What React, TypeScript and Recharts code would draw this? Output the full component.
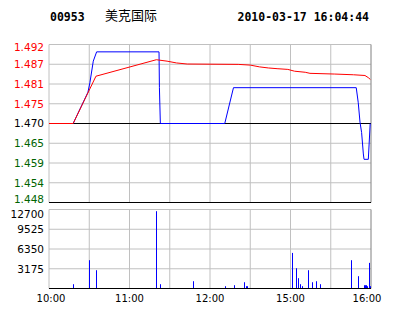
import React from 'react';
import { ComposedChart, Line, Bar, XAxis, YAxis, ReferenceLine } from 'recharts';

// ---- header ----
const stockCode = '00953';
const stockName = '美克国际';
const timestamp = '2010-03-17 16:04:44';

// ---- axes ----
const xGridTicks = [0, 30, 60, 90, 120, 150, 180, 210, 240];
const xLabelTicks = [0, 60, 120, 180, 240];
const xLabels = ['10:00', '11:00', '12:00', '15:00', '16:00'];

const prevClose = 1.47;
const priceTicks = [1.49205, 1.486537, 1.481025, 1.475512, 1.47, 1.464487, 1.458975, 1.453462, 1.44795];
const priceLabels = ['1.492', '1.487', '1.481', '1.475', '1.470', '1.465', '1.459', '1.454', '1.448'];
const pctLabels = ['+1.50 %', '+1.12 %', '+0.75 %', '+0.37 %', ' 0.00 %', '-0.37 %', '-0.75 %', '-1.12 %', '-1.50 %'];
const labelColors = ['#ff0000', '#ff0000', '#ff0000', '#ff0000', '#000000', '#006400', '#006400', '#006400', '#006400'];

const volTicks = [0, 3175, 6350, 9525, 12700];
const volLabels = ['', '3175', '6350', '9525', '12700'];

// ---- price series (minute index from 10:00) ----
const priceMinutes = [0, 18, 29, 30.5, 33, 35.5, 82, 82.3, 83, 131, 137.5, 229, 230.5, 231.8, 233, 234.3, 234.8, 238, 239.4];
const priceValues = [1.47, 1.47, 1.4787, 1.4814, 1.4874, 1.490, 1.490, 1.480, 1.470, 1.470, 1.480, 1.480, 1.4758, 1.4704, 1.4675, 1.4615, 1.460, 1.460, 1.470];

// ---- average price series ----
const avgMinutes = [0, 18, 35, 80, 88, 95, 103, 141, 150, 157, 163.5, 170, 178, 183, 191, 194.5, 213, 227, 235.5, 238, 239.5];
const avgValues = [1.47, 1.47, 1.4832, 1.4878, 1.4874, 1.4869, 1.4866, 1.4865, 1.4863, 1.4858, 1.4855, 1.4853, 1.4851, 1.4846, 1.4843, 1.484, 1.4838, 1.4836, 1.4834, 1.4828, 1.4823];

// ---- volume ----
const volMinutes = [18, 30, 35, 80, 82.5, 83, 107, 131, 138, 145.5, 146.5, 147.5, 181, 184, 185.5, 187, 188.5, 193, 196, 199, 202, 225, 230, 235, 235.7, 236.5, 237.3, 238.7, 239.5];
const volValues = [690, 4550, 2940, 12430, 530, 690, 1170, 370, 530, 1010, 370, 370, 5720, 3260, 1660, 690, 370, 2940, 1010, 1170, 690, 4550, 1980, 530, 530, 530, 370, 4120, 370];

// merged table for the price panel
const allMinutes = Array.from(new Set([...priceMinutes, ...avgMinutes, 240])).sort((a, b) => a - b);
const priceData = allMinutes.map((m) => {
  const row: any = { m };
  const pi = priceMinutes.indexOf(m);
  if (pi >= 0) row.p = priceValues[pi];
  const ai = avgMinutes.indexOf(m);
  if (ai >= 0) row.a = avgValues[ai];
  if (m === 0 || m === 240) row.b = prevClose;
  return row;
});
const volData = volMinutes.map((m, i) => ({ m, v: volValues[i] }));

const GRID = '#c0c0c0';
const DARK = '#808080';
const PRICE_DOMAIN: [number, number] = [priceTicks[8], priceTicks[0]];
const VOL_DOMAIN: [number, number] = [0, 12700];
const LAYER = { position: 'absolute' as const, left: 0, top: 0 };

function findIdx(arr: number[], v: number) {
  return arr.findIndex((t) => Math.abs(t - v) < 1e-7);
}

function LeftPriceTick(props: any) {
  const { x, y, payload } = props;
  const i = findIdx(priceTicks, payload.value);
  const adj = i === 0 ? 2.5 : i === priceTicks.length - 1 ? -3.5 : 0;
  return (
    <text x={x} y={y + adj} dy="0.36em" textAnchor="end" fill={labelColors[i]} fontSize={10.5} fontFamily="DejaVu Sans">
      {priceLabels[i]}
    </text>
  );
}

function RightPriceTick(props: any) {
  const { x, y, payload } = props;
  const i = findIdx(priceTicks, payload.value);
  const adj = i === 0 ? 2.5 : i === priceTicks.length - 1 ? -3.5 : 0;
  return (
    <text x={x} y={y + adj} dy="0.36em" textAnchor="start" fill={labelColors[i]} fontSize={10} fontFamily="DejaVu Sans Mono" style={{ whiteSpace: 'pre' }}>
      {pctLabels[i]}
    </text>
  );
}

function VolTick(props: any) {
  const { x, y, payload } = props;
  const i = findIdx(volTicks, payload.value);
  const adj = i === volTicks.length - 1 ? 4.5 : 0;
  return (
    <text x={x} y={y + adj} dy="0.36em" textAnchor="end" fill="#000" fontSize={10.5} fontFamily="DejaVu Sans">
      {volLabels[i]}
    </text>
  );
}

function TimeTick(props: any) {
  const { x, y, payload } = props;
  const i = findIdx(xLabelTicks, payload.value);
  const dx = i === 0 ? 2 : i === xLabelTicks.length - 1 ? -4 : 0;
  return (
    <text x={x + dx} y={y} dy="0.71em" textAnchor="middle" fill="#000" fontSize={10} fontFamily="DejaVu Sans">
      {xLabels[i]}
    </text>
  );
}

function VolBar(props: any) {
  const { x, y, width, height } = props;
  if (!height || height <= 0) return null;
  const cx = Math.round(x + width / 2);
  return <rect x={cx} y={y} width={1} height={height} fill="#0000ff" />;
}

// grid drawn with line series: horizontal rules at tick values, vertical rules at half-hours
function GridLayer({ top, height, margin, domain, ticks }: { top: number; height: number; margin: any; domain: [number, number]; ticks: number[] }) {
  return (
    <div style={{ position: 'absolute', left: 0, top }}>
      <ComposedChart width={414} height={height} margin={margin}>
        <XAxis dataKey="m" type="number" domain={[0, 240]} ticks={xGridTicks} hide />
        <YAxis domain={domain} ticks={ticks} hide />
        {ticks.map((t, i) => (
          <Line key={'h' + i} data={[{ m: 0, g: t }, { m: 240, g: t }]} dataKey="g" stroke={GRID} strokeWidth={1}
            dot={false} activeDot={false} isAnimationActive={false} />
        ))}
        {xGridTicks.map((t, i) => (
          <Line key={'v' + i} data={[{ m: t, g: domain[0] }, { m: t, g: domain[1] }]} dataKey="g"
            stroke={i === xGridTicks.length - 1 ? DARK : GRID} strokeWidth={1}
            dot={false} activeDot={false} isAnimationActive={false} />
        ))}
      </ComposedChart>
    </div>
  );
}

function PriceLayer({ dataKey, color }: { dataKey: string; color: string }) {
  return (
    <div style={LAYER}>
      <ComposedChart width={414} height={210} data={priceData} margin={{ top: 44.5, right: 43, bottom: 7.5, left: 49 }}>
        <XAxis dataKey="m" type="number" domain={[0, 240]} ticks={xGridTicks} hide />
        <YAxis domain={PRICE_DOMAIN} ticks={priceTicks} hide />
        <Line dataKey={dataKey} stroke={color} strokeWidth={1} dot={false} connectNulls isAnimationActive={false} />
      </ComposedChart>
    </div>
  );
}

export default function App() {
  return (
    <div style={{ position: 'absolute', left: 0, top: 0, width: 414, height: 314, background: '#fff' }}>
      <GridLayer top={0} height={210} margin={{ top: 44.5, right: 43, bottom: 7.5, left: 49 }} domain={PRICE_DOMAIN} ticks={priceTicks} />
      {/* price axes, previous close, bottom rule */}
      <div style={LAYER}>
        <ComposedChart width={414} height={210} data={priceData} margin={{ top: 44.5, right: 0, bottom: 7.5, left: 0 }}>
          <XAxis dataKey="m" type="number" domain={[0, 240]} ticks={xGridTicks} hide />
          <YAxis orientation="left" width={49} domain={PRICE_DOMAIN} ticks={priceTicks} interval={0}
            tick={<LeftPriceTick />} tickLine={false} tickSize={3} tickMargin={2} axisLine={false} />
          <YAxis yAxisId="r" orientation="right" width={43} domain={PRICE_DOMAIN} ticks={priceTicks} interval={0}
            tick={<RightPriceTick />} tickLine={false} tickSize={1} tickMargin={0} axisLine={false} />
          <ReferenceLine y={priceTicks[8]} stroke="#000" />
          <Line dataKey="b" stroke="#000" strokeWidth={1} dot={false} connectNulls isAnimationActive={false} />
        </ComposedChart>
      </div>
      <PriceLayer dataKey="p" color="#0000ff" />
      <PriceLayer dataKey="a" color="#ff0000" />
      {/* volume panel */}
      <GridLayer top={206} height={108} margin={{ top: 3.5, right: 43, bottom: 25.5, left: 49 }} domain={VOL_DOMAIN} ticks={volTicks} />
      <div style={{ position: 'absolute', left: 0, top: 206 }}>
        <ComposedChart width={414} height={108} data={volData} margin={{ top: 3.5, right: 0, bottom: 0, left: 0 }}>
          <XAxis dataKey="m" type="number" domain={[0, 240]} ticks={xLabelTicks} interval={0} height={25.5}
            tick={<TimeTick />} tickLine={false} tickSize={4} tickMargin={2} axisLine={{ stroke: '#000' }} />
          <YAxis orientation="left" width={49} domain={VOL_DOMAIN} ticks={volTicks} interval={0}
            tick={<VolTick />} tickLine={false} tickSize={3} tickMargin={2} axisLine={false} />
          <YAxis yAxisId="r" orientation="right" width={43} domain={VOL_DOMAIN} ticks={volTicks} tick={false} tickLine={false} axisLine={false} />
          <Bar dataKey="v" barSize={1} fill="#0000ff" shape={<VolBar />} isAnimationActive={false} />
        </ComposedChart>
      </div>
      {/* header */}
      <svg width={414} height={40} style={LAYER}>
        <text x={50} y={20.7} fontFamily="DejaVu Sans Mono" fontWeight="bold" fontSize={11.5} fill="#000">{stockCode}</text>
        <text x={105} y={19.5} fontFamily="Noto Sans CJK SC" fontSize={13} fill="#000">{stockName}</text>
        <text x={237.5} y={20.7} fontFamily="DejaVu Sans Mono" fontWeight="bold" fontSize={11.5} fill="#000">{timestamp}</text>
      </svg>
    </div>
  );
}
